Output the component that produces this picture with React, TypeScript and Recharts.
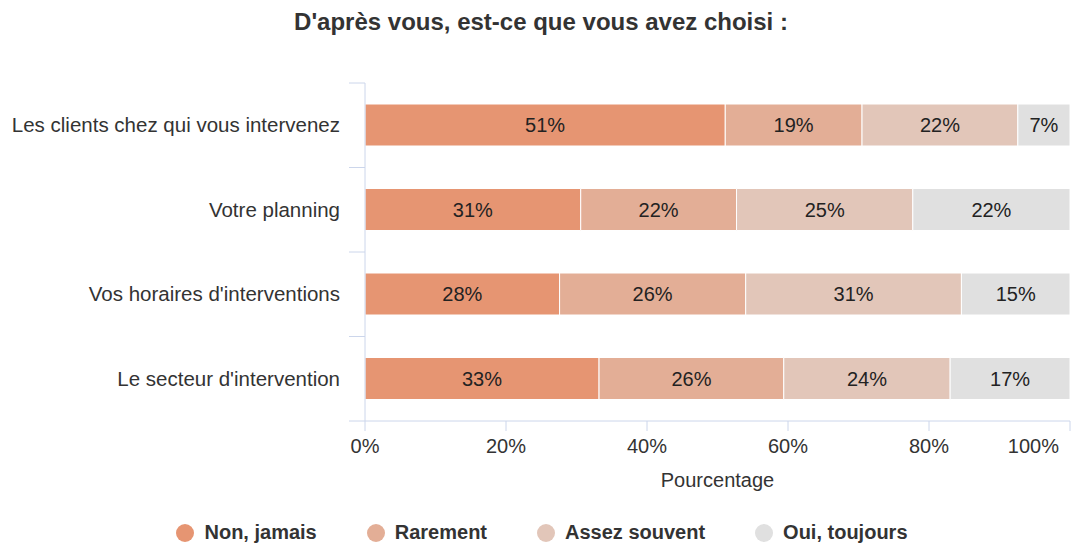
import React from 'react';
import { BarChart, Bar, XAxis, YAxis, Legend, LabelList } from 'recharts';

const categories = [
  'Les clients chez qui vous intervenez',
  'Votre planning',
  "Vos horaires d'interventions",
  "Le secteur d'intervention",
];
const nonJamais = [51.1, 30.6, 27.6, 33.2];
const rarement = [19.4, 22.1, 26.4, 26.2];
const assezSouvent = [22.1, 25.0, 30.6, 23.6];
const ouiToujours = [7.4, 22.3, 15.4, 17.0];
const xTicks = [0, 20, 40, 60, 80, 100];

const series = [
  { key: 'nonJamais', name: 'Non, jamais', color: '#e69572' },
  { key: 'rarement', name: 'Rarement', color: '#e3ae96' },
  { key: 'assezSouvent', name: 'Assez souvent', color: '#e2c6b9' },
  { key: 'ouiToujours', name: 'Oui, toujours', color: '#e0e0e0' },
];

const data = categories.map((name, i) => ({
  name,
  nonJamais: nonJamais[i],
  rarement: rarement[i],
  assezSouvent: assezSouvent[i],
  ouiToujours: ouiToujours[i],
}));

const W = 1072;
const H = 546;
const TOP = 83;
const PLOT_BOTTOM = 421;
const BAND = (PLOT_BOTTOM - TOP) / categories.length;
const AXIS_COLOR = '#ccd6eb';

const CategoryTick = (props: any) => {
  const { x, y, payload, index } = props;
  return (
    <g>
      <text x={x} y={y} dy="0.35em" textAnchor="end" fill="#333" fontSize={20.5}>
        {payload.value}
      </text>
      <line x1={x + 9} x2={x + 25} y1={y - BAND / 2} y2={y - BAND / 2} stroke={AXIS_COLOR} />
      {index === categories.length - 1 && (
        <line x1={x + 9} x2={x + 25} y1={y + BAND / 2} y2={y + BAND / 2} stroke={AXIS_COLOR} />
      )}
    </g>
  );
};

const PercentTick = (props: any) => {
  const { x, y, payload, index } = props;
  const last = index === xTicks.length - 1;
  return (
    <text
      x={last ? x - 1 : x}
      y={y}
      dy="0.71em"
      textAnchor={last ? 'end' : 'middle'}
      fill="#333"
      fontSize={20}
    >
      {`${payload.value}%`}
    </text>
  );
};

const LegendContent = () => (
  <div style={{ display: 'flex', justifyContent: 'center', alignItems: 'center', paddingLeft: 12 }}>
    {series.map((s, i) => (
      <div
        key={s.key}
        style={{ display: 'flex', alignItems: 'center', marginLeft: i === 0 ? 0 : 50 }}
      >
        <span
          style={{
            width: 18,
            height: 18,
            borderRadius: 9,
            background: s.color,
            display: 'inline-block',
            marginRight: 10,
          }}
        />
        <span style={{ fontSize: 20, fontWeight: 'bold', color: '#333' }}>{s.name}</span>
      </div>
    ))}
  </div>
);

export default function App() {
  return (
    <div
      style={{
        position: 'absolute',
        left: 0,
        top: 0,
        width: W,
        height: H,
        fontFamily: '"Liberation Sans", Arial, sans-serif',
        background: '#fff',
      }}
    >
      <div
        style={{
          position: 'absolute',
          top: 8,
          left: 10,
          width: W - 10,
          textAlign: 'center',
          fontSize: 24,
          fontWeight: 'bold',
          color: '#333',
        }}
      >
        D'après vous, est-ce que vous avez choisi :
      </div>
      <BarChart
        width={W}
        height={H}
        data={data}
        layout="vertical"
        margin={{ top: TOP, right: 2, left: 0, bottom: 55 }}
        barSize={42}
      >
        <XAxis
          type="number"
          domain={[0, 100]}
          ticks={xTicks}
          tick={<PercentTick />}
          tickSize={10}
          tickMargin={8}
          stroke={AXIS_COLOR}
          height={70}
          label={{ value: 'Pourcentage', position: 'insideBottom', offset: 4, fill: '#333', fontSize: 20 }}
        />
        <YAxis
          type="category"
          dataKey="name"
          width={365}
          tickLine={false}
          tickSize={0}
          tickMargin={25}
          stroke={AXIS_COLOR}
          tick={<CategoryTick />}
          interval={0}
        />
        <Legend
          verticalAlign="middle"
          align="center"
          content={<LegendContent />}
          wrapperStyle={{ top: 521, left: 0, width: W }}
        />
        {series.map((s) => (
          <Bar
            key={s.key}
            dataKey={s.key}
            name={s.name}
            stackId="a"
            fill={s.color}
            stroke="#fff"
            strokeWidth={1}
            isAnimationActive={false}
          >
            <LabelList
              dataKey={s.key}
              position="center"
              formatter={(v: number) => `${Math.round(v)}%`}
              fill="#222"
              fontSize={20}
            />
          </Bar>
        ))}
      </BarChart>
    </div>
  );
}
